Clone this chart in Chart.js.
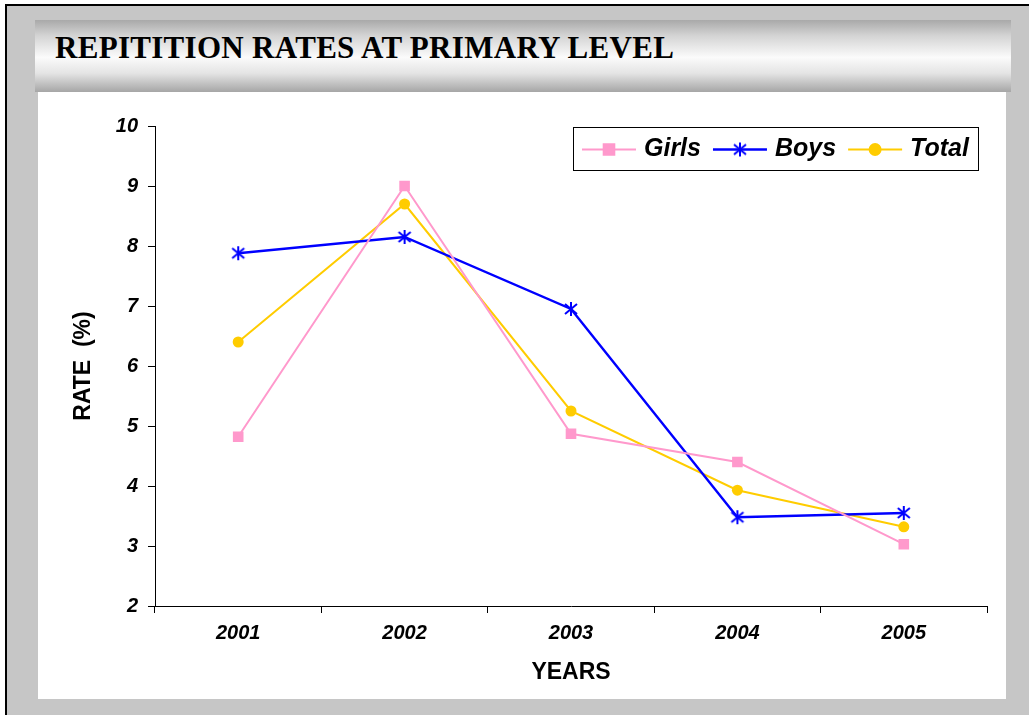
<!DOCTYPE html>
<html>
<head>
<meta charset="utf-8">
<script src="https://cdn.jsdelivr.net/npm/chart.js@4.4.0/dist/chart.umd.min.js"></script>
<style>
  body { margin: 0; background: #fff; width: 1029px; height: 715px; overflow: hidden; }
  #frame {
    position: absolute; left: 5px; top: 4px; width: 1030px; height: 720px;
    border-top: 2px solid #000; border-left: 2px solid #000;
    background: #c6c6c6;
  }
  #banner {
    position: absolute; left: 35px; top: 20px; width: 976px; height: 72px;
    background: linear-gradient(to bottom, #a9a9a9 0%, #d4d4d4 22%, #fbfbfb 52%, #e4e4e4 74%, #a6a6a6 100%);
  }
  #banner h1 {
    margin: 0; position: absolute; left: 20px; top: 11px;
    font: bold 31px "Liberation Serif", serif; color: #000; line-height: 34px;
    letter-spacing: 0.3px; white-space: nowrap;
  }
  #plot { position: absolute; left: 38px; top: 92px; width: 968px; height: 607px; background: #fff; }
</style>
</head>
<body>
<div id="frame"></div>
<div id="banner"><h1>REPITITION RATES AT PRIMARY LEVEL</h1></div>
<div id="plot"><canvas id="line-chart" width="968" height="607"></canvas></div>
<script>
const years = ['2001', '2002', '2003', '2004', '2005'];
const girls = [4.82, 9.0, 4.87, 4.4, 3.03];
const boys = [7.88, 8.15, 6.95, 3.48, 3.55];
const total = [6.4, 8.7, 5.25, 3.93, 3.32];
const seriesNames = ['Girls', 'Boys', 'Total'];

// Excel-style asterisk marker for Boys
function asterisk(color) {
  const c = document.createElement('canvas');
  c.width = 16; c.height = 16;
  const ctx = c.getContext('2d');
  ctx.strokeStyle = color;
  ctx.lineWidth = 2;
  ctx.beginPath();
  ctx.moveTo(8, 1); ctx.lineTo(8, 15);
  ctx.moveTo(2, 3); ctx.lineTo(14, 13);
  ctx.moveTo(14, 3); ctx.lineTo(2, 13);
  ctx.stroke();
  return c;
}

const tickFont = { family: '"Liberation Sans", Arial, sans-serif', size: 20, weight: 'bold', style: 'italic' };
const titleFont = { family: '"Liberation Sans", Arial, sans-serif', size: 23, weight: 'bold' };

// legend drawn inside the plot, boxed, like the original
const boxLegend = {
  id: 'boxLegend',
  afterDraw(chart) {
    const ctx = chart.ctx;
    const x0 = 535, y0 = 35, w = 405, h = 43;
    ctx.save();
    ctx.fillStyle = '#fff';
    ctx.fillRect(x0, y0, w, h);
    ctx.strokeStyle = '#000';
    ctx.lineWidth = 1;
    ctx.strokeRect(x0 + 0.5, y0 + 0.5, w, h);
    ctx.font = 'italic bold 25px "Liberation Sans", Arial, sans-serif';
    ctx.textBaseline = 'middle';
    let x = x0 + 9;
    const y = y0 + h / 2 + 1;
    chart.data.datasets.forEach((ds) => {
      ctx.strokeStyle = ds.borderColor;
      ctx.lineWidth = ds.borderWidth;
      ctx.beginPath();
      ctx.moveTo(x, y); ctx.lineTo(x + 54, y);
      ctx.stroke();
      Chart.helpers.drawPoint(ctx, {
        pointStyle: ds.pointStyle, radius: ds.pointRadius, borderWidth: 1
      }, x + 27, y);
      if (typeof ds.pointStyle !== 'object') {
        ctx.fillStyle = ds.borderColor;
        ctx.fill();
      }
      ctx.fillStyle = '#000';
      ctx.fillText(ds.label, x + 62, y);
      x += 62 + ctx.measureText(ds.label).width + 12;
    });
    ctx.restore();
  }
};

new Chart(document.getElementById('line-chart'), {
  type: 'line',
  data: {
    labels: years,
    datasets: [
      {
        label: seriesNames[0],
        data: girls,
        borderColor: '#ff99cc',
        backgroundColor: '#ff99cc',
        borderWidth: 2,
        pointStyle: 'rect',
        pointRadius: 7.5,
        pointBorderWidth: 0,
      },
      {
        label: seriesNames[1],
        data: boys,
        borderColor: '#0000ff',
        backgroundColor: '#0000ff',
        borderWidth: 2.4,
        pointStyle: asterisk('#0000ff'),
        pointRadius: 8,
      },
      {
        label: seriesNames[2],
        data: total,
        borderColor: '#ffcc00',
        backgroundColor: '#ffcc00',
        borderWidth: 2,
        pointStyle: 'circle',
        pointRadius: 5.5,
        pointBorderWidth: 0,
      },
    ],
  },
  options: {
    responsive: false,
    animation: false,
    layout: { padding: { top: 34, right: 19, left: 0, bottom: 0 } },
    plugins: {
      legend: { display: false },
      tooltip: { enabled: false },
    },
    scales: {
      x: {
        offset: true,
        afterFit(scale) { scale.height = 93; },
        grid: { offset: true, drawOnChartArea: false, tickLength: 7, color: '#000' },
        border: { color: '#000', width: 1 },
        ticks: { color: '#000', font: tickFont, padding: 8 },
        title: { display: true, text: 'YEARS', color: '#000', font: titleFont, padding: { top: 0, bottom: 13 } },
      },
      y: {
        min: 2,
        max: 10,
        afterFit(scale) { scale.width = 117; },
        grid: { drawOnChartArea: false, tickLength: 7, color: '#000' },
        border: { color: '#000', width: 1 },
        ticks: { stepSize: 1, color: '#000', font: tickFont, padding: 10 },
        title: { display: true, text: 'RATE  (%)', color: '#000', font: titleFont, padding: { top: 32, bottom: 0 } },
      },
    },
  },
  plugins: [boxLegend],
});
</script>
</body>
</html>
